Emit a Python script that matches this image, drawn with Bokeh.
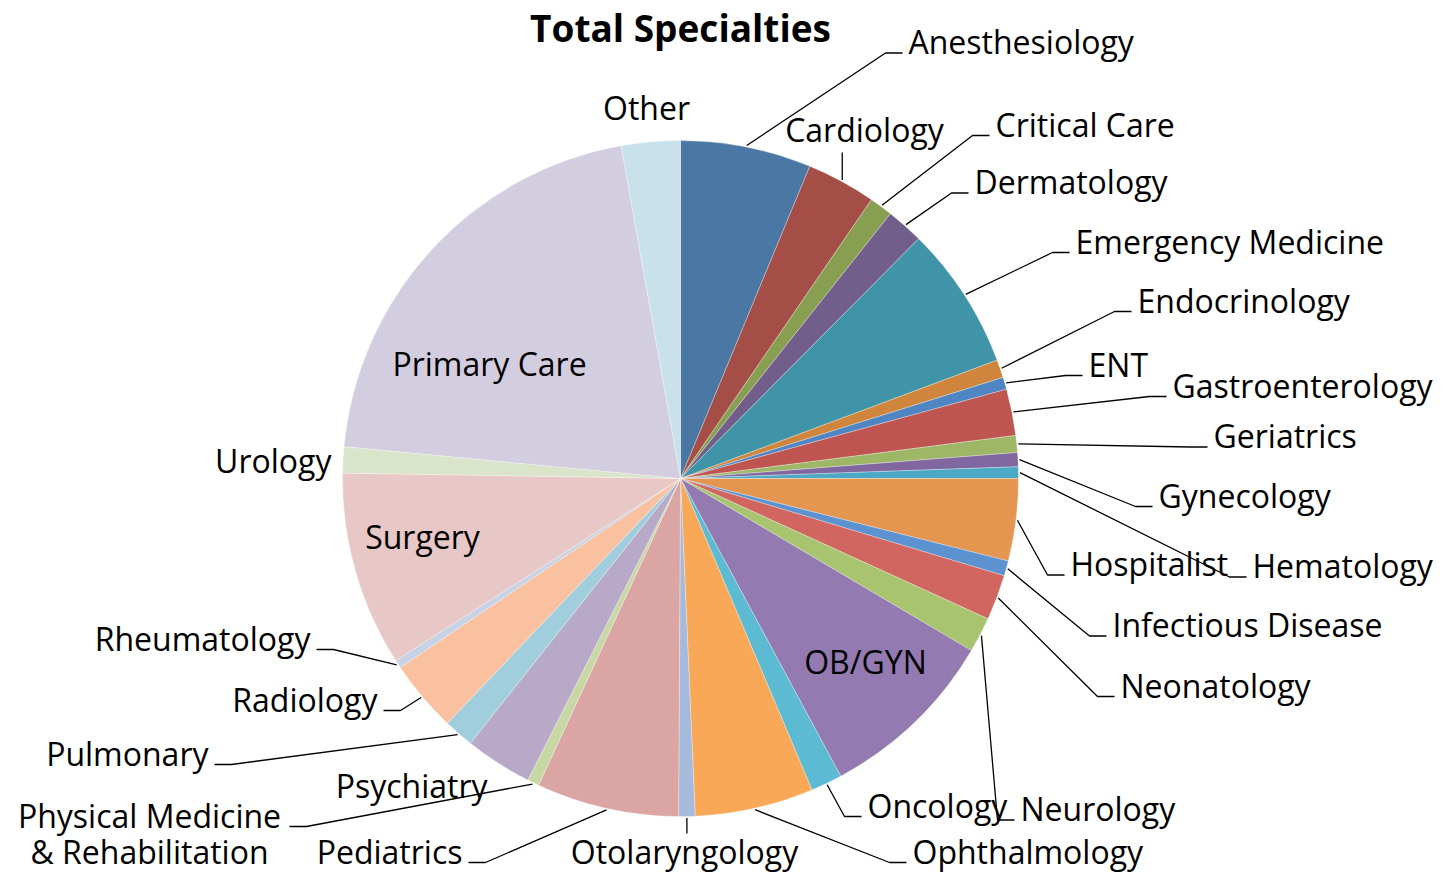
import numpy as np
from bokeh.plotting import figure
from bokeh.models import Range1d, ColumnDataSource
from bokeh.core.properties import value
from bokeh.embed import file_html
from bokeh.resources import INLINE

# ---------------- data ----------------
chart_title = "Total Specialties"
specialties = [
    "Anesthesiology", "Cardiology", "Critical Care", "Dermatology",
    "Emergency Medicine", "Endocrinology", "ENT", "Gastroenterology",
    "Geriatrics", "Gynecology", "Hematology", "Hospitalist",
    "Infectious Disease", "Neonatology", "Neurology", "OB/GYN", "Oncology",
    "Ophthalmology", "Otolaryngology", "Pediatrics",
    "Physical Medicine\n& Rehabilitation", "Psychiatry", "Pulmonary",
    "Radiology", "Rheumatology", "Surgery", "Urology", "Primary Care", "Other",
]
shares = [
    6.25, 3.31, 1.11, 1.78,
    6.86, 0.86, 0.58, 2.22,
    0.81, 0.67, 0.56, 3.92,
    0.72, 2.17, 1.69, 8.64, 1.50,
    5.67, 0.78, 6.81,
    0.56, 3.22, 1.44,
    3.44, 0.39, 9.31, 1.25, 20.69, 2.81,
]
colors = [
    "#4A77A3", "#A44E47", "#889F52", "#725E8B",
    "#3F95A7", "#D0853D", "#4F85C2", "#BF5550",
    "#9DB766", "#8067A0", "#4BA9C5", "#E49651",
    "#5C92D0", "#D1655F", "#A9C46E", "#937AB1", "#5CBAD2",
    "#F9A858", "#A6BADB", "#DAA5A2",
    "#C7D8A5", "#B8A9C9", "#A1CEDC",
    "#F9C19F", "#C8D2E6", "#E8C8C7", "#D9E4CA", "#D3CDE0", "#C8E1EA",
]

# ---------------- layout (screen px, y downward) ----------------
W, H = 1435, 872
CX, CY, R = 680.0, 478.0, 338.0
label_x = [908, 864, 995, 974, 1075, 1137, 1088, 1172, 1213, 1158, 1252, 1070,
           1112, 1120, 1020, 865, 867, 912, 684, 462, 149, 487, 208, 377, 310,
           422, 331, 489, 646]
label_base = [53.5, 141, 136, 193.5, 253, 312, 376, 397, 447.5, 507, 577.5, 575.5,
              636.5, 697, 820.5, 673, 817, 863, 863, 863, 827, 797, 765, 711, 650,
              548, 472, 375, 119.5]
label_align = ["left", "center", "left", "left", "left", "left", "left", "left",
               "left", "left", "left", "left", "left", "left", "left", "center",
               "left", "left", "center", "right", "center", "right", "right",
               "right", "right", "center", "right", "center", "center"]
leader_kind = ["e", "v", "e", "e", "e", "e", "e", "e", "e", "e", "e", "e", "e", "e",
               "e", "n", "e", "e", "v", "e", "e", "n", "e", "e", "e", "n", "n", "n", "n"]
leader_vend = {1: 152, 18: 833}
phys_right_edge = 283
FONT = value("Open Sans")
LABEL_SIZE = "32px"
LINE_GAP = 36
CAP_MID = 12.5  # baseline -> cap centre

p = figure(width=W, height=H, x_range=Range1d(0, W), y_range=Range1d(0, H),
           output_backend="svg", toolbar_location=None, min_border=0)
p.axis.visible = False
p.grid.visible = False
p.outline_line_color = None
p.background_fill_color = "white"
p.border_fill_color = "white"

vals = np.array(shares, dtype=float)
frac = vals / vals.sum()
cum = np.concatenate([[0.0], np.cumsum(frac)]) * 360.0
a0, a1 = cum[:-1], cum[1:]
mid = np.radians((a0 + a1) / 2.0)

src = ColumnDataSource(dict(
    name=specialties,
    start=np.radians(90.0 - a1),
    end=np.radians(90.0 - a0),
    color=colors,
))
p.wedge(x=CX, y=H - CY, radius=R, start_angle="start", end_angle="end",
        direction="anticlock", fill_color="color", line_color="white",
        line_width=0.6, line_alpha=0.5, source=src)

# leader lines
xs, ys = [], []
for i, kind in enumerate(leader_kind):
    if kind == "n":
        continue
    ex = CX + (R + 1.5) * np.sin(mid[i])
    ey = CY - (R + 1.5) * np.cos(mid[i])
    if kind == "v":
        xs.append([ex, ex])
        ys.append([H - ey, H - leader_vend[i]])
        continue
    hy = label_base[i] - 1.0
    al = label_align[i]
    if al == "left":
        near = label_x[i] - 6
        far = near - 17
    elif al == "right":
        near = label_x[i] + 6
        far = near + 17
    else:
        near = phys_right_edge + 6
        far = near + 17
    xs.append([ex, far, near])
    ys.append([H - ey, H - hy, H - hy])
p.multi_line(xs, ys, line_color="black", line_width=1.3)

# labels
for al in ("left", "center", "right"):
    tx, ty, tt = [], [], []
    for i, name in enumerate(specialties):
        if label_align[i] != al:
            continue
        for k, part in enumerate(name.split("\n")):
            tx.append(label_x[i])
            ty.append(H - (label_base[i] + k * LINE_GAP - CAP_MID))
            tt.append(part)
    p.text(x=tx, y=ty, text=tt, text_font=FONT, text_font_size=LABEL_SIZE,
           text_align=al, text_baseline="middle", text_color="black")

# title
p.text(x=[680], y=[H - 26.5], text=[chart_title], text_font=FONT, text_font_size="37px",
       text_font_style="bold", text_align="center", text_baseline="middle",
       text_color="black")

open("out.html", "w").write(file_html(p, INLINE))
